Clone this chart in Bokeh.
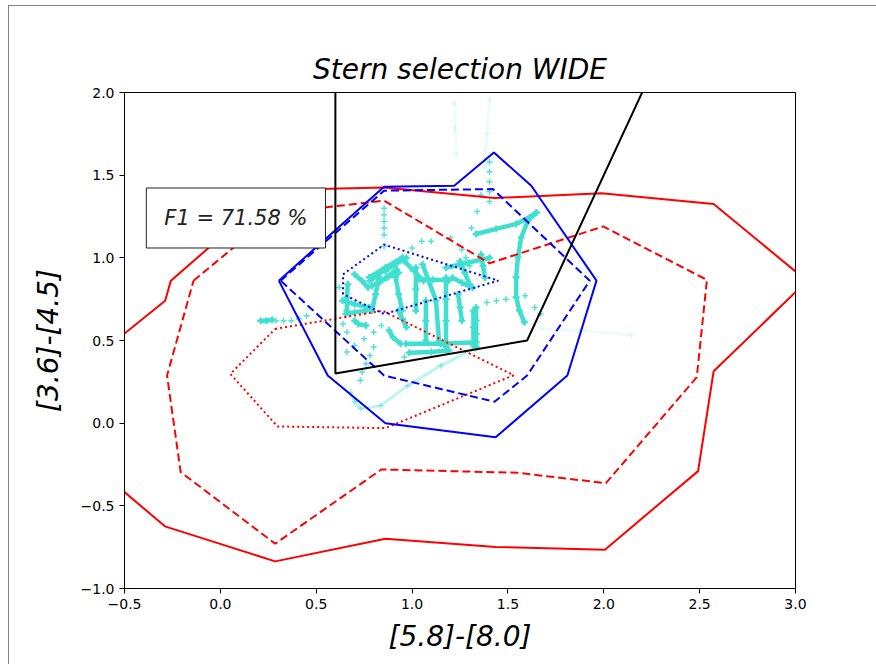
from bokeh.plotting import figure
from bokeh.models import Label, FixedTicker, CustomJSTickFormatter
from bokeh.embed import file_html
from bokeh.resources import INLINE

# ---------------- data ----------------
x_ticks = [-0.5, 0.0, 0.5, 1.0, 1.5, 2.0, 2.5, 3.0]
y_ticks = [-1.0, -0.5, 0.0, 0.5, 1.0, 1.5, 2.0]

# Stern et al. wedge
stern_x = [0.6, 0.6, 1.6, 2.28]
stern_y = [2.2, 0.3, 0.5, 2.2]

# red contours (all sources)
red_solid_x = [-0.5, -0.288, -0.258, 0.286, 0.854, 1.43, 1.988, 2.573, 3.06, 2.573, 2.492, 2.006, 1.436, 0.861, 0.286, -0.289, -0.5]
red_solid_y = [0.542, 0.741, 0.862, 1.41, 1.426, 1.362, 1.39, 1.326, 0.86, 0.314, -0.29, -0.765, -0.749, -0.699, -0.836, -0.624, -0.417]
red_dash_x = [-0.14, 0.286, 0.854, 1.404, 1.997, 2.538, 2.485, 2.011, 1.55, 0.84, 0.286, -0.207, -0.278, -0.14]
red_dash_y = [0.862, 1.27, 1.346, 0.967, 1.19, 0.867, 0.278, -0.363, -0.30, -0.28, -0.729, -0.296, 0.288, 0.862]
red_dot_x = [0.286, 0.846, 1.53, 0.861, 0.298, 0.052, 0.286]
red_dot_y = [0.57, 0.68, 0.29, -0.03, -0.02, 0.298, 0.57]

# blue contours (AGN)
blue_solid_x = [0.305, 0.854, 1.22, 1.427, 1.622, 1.962, 1.81, 1.436, 0.861, 0.56, 0.305]
blue_solid_y = [0.862, 1.43, 1.436, 1.637, 1.436, 0.862, 0.288, -0.085, 0.0, 0.288, 0.862]
blue_dash_x = [0.314, 0.854, 1.421, 1.927, 1.6, 1.43, 0.854, 0.314]
blue_dash_y = [0.862, 1.406, 1.416, 0.862, 0.288, 0.13, 0.288, 0.862]
blue_dot_x = [0.64, 0.854, 1.45, 0.854, 0.64, 0.64]
blue_dot_y = [0.90, 1.08, 0.862, 0.66, 0.78, 0.90]

# turquoise model tracks (dense)
track_x = [
    [1.648, 1.604, 1.569, 1.552, 1.543, 1.543, 1.560, 1.586],
    [1.334, 1.439, 1.543, 1.613, 1.648],
    [1.334, 1.334, 1.334, 1.334],
    [1.320, 1.320, 1.320],
    [1.177, 1.177, 1.177, 1.177],
    [0.968, 1.150, 1.334],
    [0.985, 1.100, 1.192],
    [1.020, 1.020, 1.020],
    [1.055, 1.125, 1.140],
    [0.776, 0.860, 0.950],
    [0.790, 0.870, 0.930],
    [0.826, 0.810, 0.791],
    [0.914, 0.930, 0.949],
    [0.637, 0.700, 0.776],
    [0.655, 0.700, 0.760],
    [1.177, 1.290, 1.404],
    [1.211, 1.260, 1.316],
    [1.036, 1.110, 1.193],
    [0.928, 0.950, 0.971],
    [1.072, 1.072, 1.072],
    [0.210, 0.240, 0.270],
    [0.700, 0.740, 0.770],
    [0.880, 0.900, 0.940],
    [1.240, 1.250, 1.260],
    [0.780, 0.820, 0.860],
    [0.820, 0.870, 0.920],
    [0.860, 0.910, 0.970],
    [0.660, 0.660, 0.665],
    [1.250, 1.275, 1.300],
    [1.360, 1.370, 1.380],
    [0.960, 1.010, 1.060],
    [0.700, 0.720, 0.760],
]
track_y = [
    [1.274, 1.224, 1.123, 1.003, 0.882, 0.761, 0.681, 0.610],
    [1.144, 1.175, 1.205, 1.245, 1.274],
    [0.700, 0.620, 0.540, 0.460],
    [0.680, 0.580, 0.470],
    [0.880, 0.750, 0.620, 0.460],
    [0.480, 0.480, 0.490],
    [0.426, 0.430, 0.440],
    [0.940, 0.810, 0.680],
    [0.960, 0.740, 0.500],
    [0.882, 0.940, 1.003],
    [0.830, 0.880, 0.910],
    [0.882, 0.780, 0.681],
    [0.882, 0.780, 0.681],
    [0.741, 0.720, 0.700],
    [0.660, 0.670, 0.680],
    [0.940, 0.970, 1.000],
    [0.880, 0.850, 0.820],
    [0.870, 0.868, 0.864],
    [0.680, 0.630, 0.580],
    [0.740, 0.620, 0.500],
    [0.620, 0.620, 0.625],
    [0.900, 0.860, 0.820],
    [0.560, 0.520, 0.480],
    [0.780, 0.700, 0.620],
    [0.860, 0.895, 0.930],
    [0.840, 0.885, 0.930],
    [0.920, 0.960, 1.000],
    [0.680, 0.760, 0.840],
    [0.980, 0.910, 0.840],
    [1.020, 0.950, 0.880],
    [0.980, 0.920, 0.860],
    [0.620, 0.600, 0.590],
]

# turquoise sparse points
sparse_x = [0.29, 0.33, 0.37, 0.41, 0.45, 0.854, 0.854, 0.854, 0.854, 0.854, 0.854,
            1.404, 1.404, 1.404, 1.404, 1.404, 1.36, 1.34, 1.31,
            1.39, 1.44, 1.49, 1.54, 1.59, 0.80, 0.78, 0.76, 0.74, 0.73,
            1.64, 1.67, 0.66, 0.70, 0.75, 0.80, 0.84, 1.10, 1.20, 1.26,
            0.62, 0.64, 0.66, 1.00, 1.05, 0.96, 1.28, 1.30]
sparse_y = [0.62, 0.62, 0.62, 0.63, 0.65, 1.30, 1.26, 1.22, 1.18, 1.14, 1.07,
            1.58, 1.52, 1.46, 1.40, 1.34, 1.38, 1.28, 1.18,
            0.73, 0.74, 0.75, 0.76, 0.77, 0.46, 0.41, 0.36, 0.31, 0.26,
            0.70, 0.66, 0.43, 0.47, 0.51, 0.55, 0.59, 1.10, 1.12, 1.05,
            0.82, 0.60, 0.55, 1.06, 1.10, 0.40, 1.00, 0.95]

# faint lower tail
tail_x = [0.680, 0.700, 0.733, 0.837, 0.977, 1.150, 1.323]
tail_y = [0.187, 0.130, 0.088, 0.106, 0.227, 0.348, 0.451]
# very faint tracks
faint_x = [[1.221, 1.225, 1.230], [1.404, 1.390, 1.378], [1.674, 1.900, 2.145]]
faint_y = [[1.939, 1.780, 1.620], [1.960, 1.750, 1.540], [0.570, 0.560, 0.530]]

f1_text = "F1 = 71.58 %"
f1_x, f1_y = 0.081, 1.241

TURQ = "#40E0D0"

p = figure(width=868, height=659, x_range=(-0.5, 3.0), y_range=(-1.0, 2.0),
           output_backend="svg", toolbar_location=None,
           min_border_left=115, min_border_right=82, min_border_top=86, min_border_bottom=77,
           margin=(5, 0, 0, 8),
           styles={"border-left": "1px solid #808080", "border-top": "1px solid #808080"},
           title="Stern selection WIDE")
p.title.align = "center"
p.title.text_font = "DejaVu Sans"
p.title.text_font_size = "28px"
p.title.text_font_style = "italic"
p.title.text_color = "black"
p.title.standoff = 13

p.xgrid.visible = False
p.ygrid.visible = False
p.outline_line_color = "black"
p.outline_line_width = 1
p.background_fill_color = "white"
p.border_fill_color = "white"

fmt = CustomJSTickFormatter(code="return (tick < 0 ? '\u2212' : '') + Math.abs(tick).toFixed(1);")
for ax, ticks in ((p.xaxis, x_ticks), (p.yaxis, y_ticks)):
    ax.ticker = FixedTicker(ticks=ticks)
    ax.formatter = fmt
    ax.major_tick_out = 5
    ax.major_tick_in = 0
    ax.minor_tick_out = 0
    ax.minor_tick_in = 0
    ax.axis_line_color = "black"
    ax.major_tick_line_color = "black"
    ax.major_label_text_font = "DejaVu Sans"
    ax.major_label_text_font_size = "14px"
    ax.major_label_text_color = "black"
    ax.axis_label_text_font = "DejaVu Sans"
    ax.axis_label_text_font_size = "28px"
    ax.axis_label_text_font_style = "italic"
    ax.axis_label_text_color = "black"
p.xaxis.axis_label = "[5.8]-[8.0]"
p.yaxis.axis_label = "[3.6]-[4.5]"
p.xaxis.major_label_standoff = 5
p.yaxis.major_label_standoff = 5
p.xaxis.axis_label_standoff = 8
p.yaxis.axis_label_standoff = 13

# turquoise tracks
p.multi_line(faint_x, faint_y, line_color=TURQ, line_width=3, line_alpha=0.1)
for fx, fy in zip(faint_x, faint_y):
    p.scatter(fx, fy, marker="cross", size=6, line_color=TURQ, line_alpha=0.12, line_width=1.5)
p.line(tail_x, tail_y, line_color=TURQ, line_width=3, line_alpha=0.35)
p.scatter(tail_x, tail_y, marker="cross", size=6, line_color=TURQ, line_alpha=0.5, line_width=1.5)
p.multi_line(track_x, track_y, line_color=TURQ, line_width=4.5, line_cap="round", line_join="round")
for tx, ty in zip(track_x, track_y):
    p.scatter(tx, ty, marker="cross", size=7, line_color=TURQ, line_width=2)
p.scatter(sparse_x, sparse_y, marker="cross", size=6, line_color=TURQ, line_width=1.5, line_alpha=0.9)

# contours
p.line(red_solid_x, red_solid_y, line_color="red", line_width=2)
p.line(red_dash_x, red_dash_y, line_color="red", line_width=2, line_dash="8 4")
p.line(red_dot_x, red_dot_y, line_color="red", line_width=2, line_dash="2 3")
p.line(blue_solid_x, blue_solid_y, line_color="blue", line_width=2)
p.line(blue_dash_x, blue_dash_y, line_color="blue", line_width=2, line_dash="8 4")
p.line(blue_dot_x, blue_dot_y, line_color="blue", line_width=2, line_dash="2 3")

# selection wedge
p.line(stern_x, stern_y, line_color="black", line_width=2)

lab = Label(x=f1_x, y=f1_y, text=f1_text, text_align="center", text_baseline="middle",
            text_font="DejaVu Sans", text_font_size="21px", text_font_style="italic",
            text_color="#222222", background_fill_color="white", background_fill_alpha=1.0,
            border_line_color="#222222", border_line_width=1, padding=18)
p.add_layout(lab)

open("out.html", "w").write(file_html(p, INLINE))
